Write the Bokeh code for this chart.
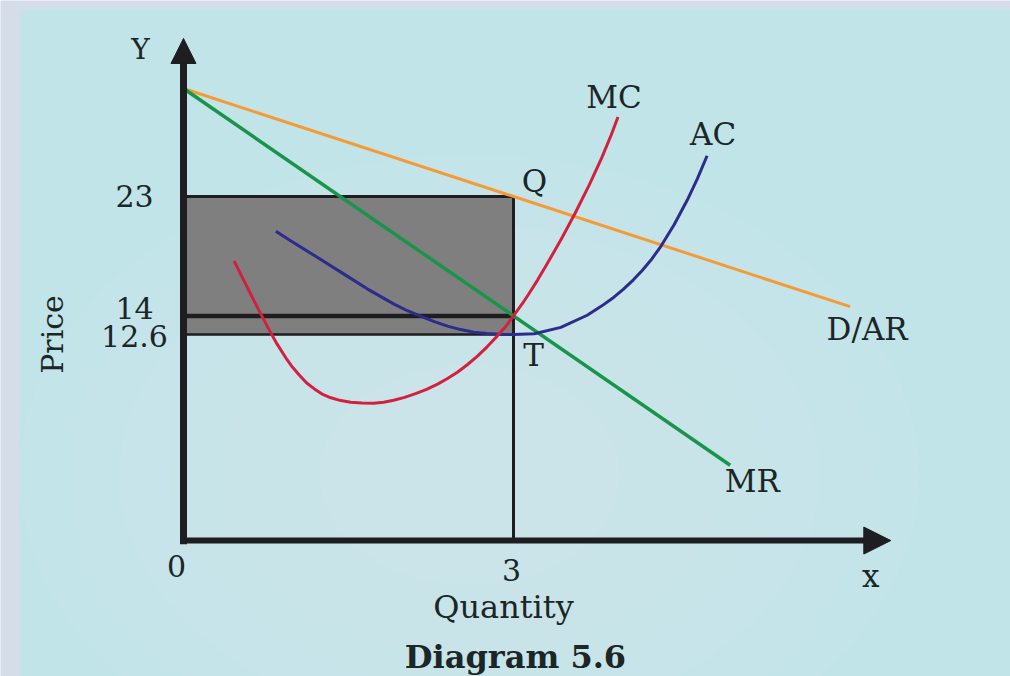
import math

from bokeh.plotting import figure
from bokeh.models import Range1d, Arrow, NormalHead
from bokeh.core.properties import value
from bokeh.embed import file_html
from bokeh.resources import INLINE

# ---------------- data ----------------
# Marginal cost (U-shaped)
mc_q = [0.46, 0.55, 0.63, 0.70, 0.78, 0.85, 0.94, 0.99, 1.05, 1.12, 1.19, 1.26,
        1.34, 1.43, 1.52, 1.62, 1.73, 1.82, 1.91, 2.01, 2.11, 2.21, 2.31, 2.40,
        2.49, 2.58, 2.67, 2.76, 2.85, 2.93, 3.00, 3.08, 3.14, 3.22, 3.29, 3.37,
        3.44, 3.56, 3.69, 3.80, 3.89, 3.95]
mc_p = [18.14, 16.65, 15.33, 14.19, 12.93, 11.89, 10.72, 10.15, 9.57, 8.94, 8.50, 8.11,
        7.83, 7.62, 7.50, 7.44, 7.42, 7.49, 7.64, 7.86, 8.14, 8.47, 8.86, 9.28,
        9.76, 10.32, 10.95, 11.67, 12.46, 13.21, 14.00, 14.92, 15.67, 16.72, 17.70, 18.85,
        19.88, 21.74, 23.89, 25.87, 27.67, 28.99]

# Average cost (U-shaped, minimum at T)
ac_q = [0.84, 0.97, 1.19, 1.43, 1.67, 1.91, 2.03, 2.16, 2.28, 2.40, 2.52, 2.64,
        2.76, 2.88, 3.00, 3.19, 3.43, 3.67, 3.80, 3.91, 4.00, 4.09, 4.17, 4.25,
        4.34, 4.46, 4.58, 4.67, 4.76]
ac_p = [20.39, 19.68, 18.55, 17.30, 16.04, 14.91, 14.41, 13.96, 13.57, 13.23, 12.97, 12.77,
        12.67, 12.62, 12.60, 12.66, 13.14, 14.05, 14.74, 15.39, 16.02, 16.72, 17.43, 18.21,
        19.25, 20.87, 22.73, 24.31, 26.07]

# Demand / average revenue and marginal revenue (straight lines)
ar_q = [0.0, 6.06]
ar_p = [31.14, 14.70]
mr_q = [0.0, 4.97]
mr_p = [31.14, 2.75]

# Equilibrium output and price levels
q_eq = 3
price_ar = 23
price_mr = 14      # MR = MC
price_ac = 12.6    # average cost at T

price_ticks = [23, 14, 12.6]
price_labels = ["23", "14", "12.6"]
qty_ticks = [0, 3]
qty_labels = ["0", "3"]

# Axis extents of the diagram
axis_base = -2.93
axis_top = 34.91
axis_right = 6.43

# ---------------- styling ----------------
FONT = value("DejaVu Serif")
INK = "#1b2626"
BLACK = "#1e1d1f"
C_MC = "#d2213e"
C_AC = "#2b2c8c"
C_MR = "#189548"
C_AR = "#f59b35"
C_BOX = "#7f7f80"

p = figure(width=1010, height=676,
           x_range=Range1d(-1.6636, 7.5182), y_range=Range1d(-13.174, 37.771),
           x_axis_type=None, y_axis_type=None,
           toolbar_location=None, output_backend="svg",
           min_border=0, outline_line_color=None,
           background_fill_color="#d5dee8", border_fill_color="#d5dee8")
p.grid.visible = False

# light cyan panel with a soft, faint glow towards the lower middle
p.quad(left=[-1.491], right=[7.7], bottom=[-14.0], top=[37.09],
       fill_color="#c1e4e9", line_color=None)
glow_w = [900, 800, 700, 600, 500, 400, 300]
glow_h = [640, 570, 500, 430, 360, 290, 220]
p.ellipse(x=[2.6] * len(glow_w), y=[2.0] * len(glow_w),
          width=glow_w, height=glow_h,
          width_units="screen", height_units="screen",
          fill_color="#d6eeec", fill_alpha=0.10, line_color=None)

# profit rectangle
p.quad(left=[0], right=[q_eq], bottom=[price_ac], top=[price_ar],
       fill_color=C_BOX, line_color=None)
p.line([0, q_eq], [price_ar, price_ar], line_color=BLACK, line_width=3)
p.line([0, q_eq], [price_ac, price_ac], line_color=BLACK, line_width=2.5)
p.line([0, q_eq], [price_mr, price_mr], line_color=BLACK, line_width=4.5)
p.line([q_eq, q_eq], [axis_base, price_ar], line_color=BLACK, line_width=3)

# revenue and cost curves
p.line(ar_q, ar_p, line_color=C_AR, line_width=3)
p.line(mr_q, mr_p, line_color=C_MR, line_width=3.5)
p.line(ac_q, ac_p, line_color=C_AC, line_width=3, line_join="round")
p.line(mc_q, mc_p, line_color=C_MC, line_width=3, line_join="round")

# axes: thick shafts that stop inside their arrow heads
p.line([0, 0], [axis_base - 0.27, axis_top - 1.4], line_color=BLACK, line_width=7)
p.line([-0.03, axis_right - 0.15], [axis_base, axis_base], line_color=BLACK, line_width=6)
p.add_layout(Arrow(end=NormalHead(size=25, fill_color=BLACK, line_color=BLACK, line_width=1),
                   x_start=0, y_start=axis_top - 1.0, x_end=0, y_end=axis_top,
                   line_alpha=0))
p.add_layout(Arrow(end=NormalHead(size=27, fill_color=BLACK, line_color=BLACK, line_width=1),
                   x_start=axis_right - 0.1, y_start=axis_base, x_end=axis_right, y_end=axis_base,
                   line_alpha=0))


def label(x, y, s, dx=0, dy=0, size="31px", style="normal", angle=0.0):
    p.text(x=[x], y=[y], text=[s], x_offset=dx, y_offset=dy, angle=angle,
           text_font=FONT, text_font_size=size, text_font_style=style,
           text_color=INK, text_align="center", text_baseline="middle")


# price ticks, nudged apart where two levels sit close together
tick_nudge = {"14": -8, "12.6": 2}
for v, s in zip(price_ticks, price_labels):
    label(0, v, s, dx=-49, dy=tick_nudge.get(s, 0), size="30px")

label(qty_ticks[0], axis_base, qty_labels[0], dx=-7, dy=25, size="30px")
label(qty_ticks[1], axis_base, qty_labels[1], dx=-2, dy=29, size="30px")

# axis names and captions
label(0, axis_top, "Y", dx=-43, dy=11, size="28px")
label(axis_right, axis_base, "x", dx=-20, dy=35)
label(q_eq, axis_base, "Quantity", dx=-10, dy=66, size="32px")
label(q_eq, axis_base, "Diagram 5.6", dx=2, dy=116, size="32px", style="bold")
label(0, price_ac, "Price", dx=-131, dy=0, size="30px", angle=math.pi / 2)

# curve and point names
label(mc_q[-1], mc_p[-1], "MC", dx=-4, dy=-20)
label(ac_q[-1], ac_p[-1], "AC", dx=6, dy=-22)
label(ar_q[-1], ar_p[-1], "D/AR", dx=17, dy=22)
label(mr_q[-1], mr_p[-1], "MR", dx=22, dy=16)
label(q_eq, price_ar, "Q", dx=21, dy=-15)
label(q_eq, price_ac, "T", dx=20, dy=21)

open("out.html", "w").write(file_html(p, INLINE))
